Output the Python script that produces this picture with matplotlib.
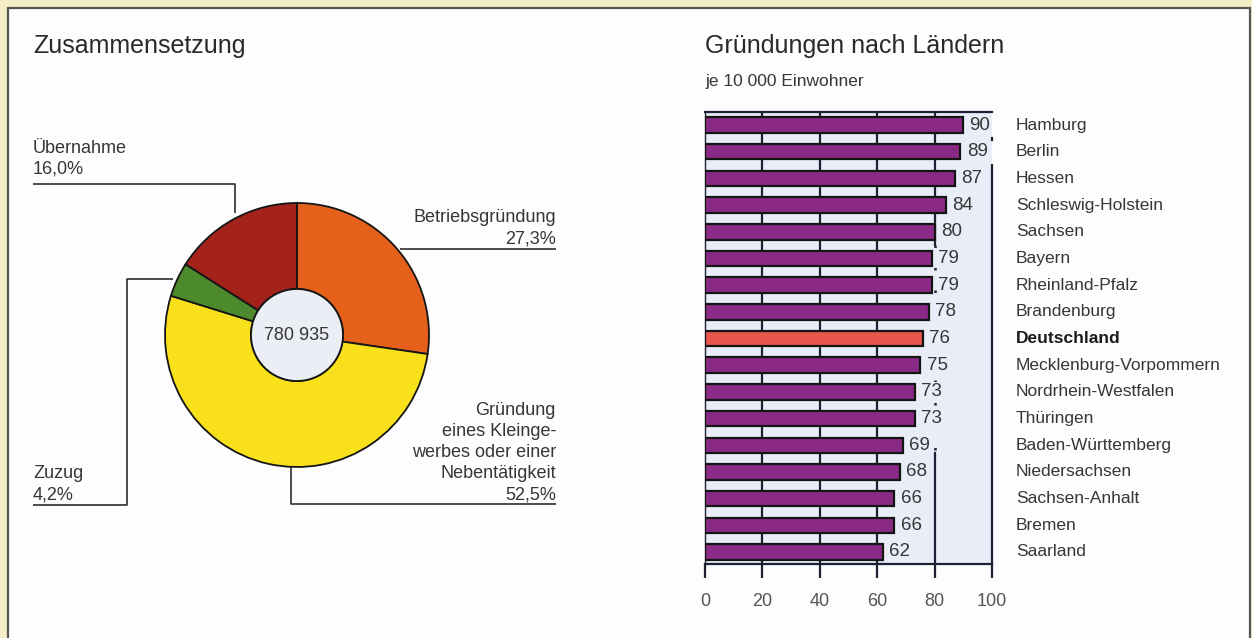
import matplotlib.pyplot as plt
from matplotlib.patches import Rectangle, Circle
from matplotlib.transforms import blended_transform_factory

plt.rcParams['font.family'] = ['Liberation Sans', 'DejaVu Sans']

# --- data -------------------------------------------------------------
pie_labels = ["Betriebsgründung", "Gründung eines Kleingewerbes oder einer Nebentätigkeit",
              "Zuzug", "Übernahme"]
pie_shares = [27.3, 52.5, 4.2, 16.0]
pie_colors = ["#e5611b", "#f8e01b", "#4c8a2d", "#a3221a"]
total = "780 935"

states = ["Hamburg", "Berlin", "Hessen", "Schleswig-Holstein", "Sachsen", "Bayern",
          "Rheinland-Pfalz", "Brandenburg", "Deutschland", "Mecklenburg-Vorpommern",
          "Nordrhein-Westfalen", "Thüringen", "Baden-Württemberg", "Niedersachsen",
          "Sachsen-Anhalt", "Bremen", "Saarland"]
per_10000 = [90, 89, 87, 84, 80, 79, 79, 78, 76, 75, 73, 73, 69, 68, 66, 66, 62]
x_ticks = [0, 20, 40, 60, 80, 100]

W, H = 1252, 638
txt = "#363636"
line = "#2e2e2e"
purple = "#8a2a86"
red = "#e8564c"
axbg = "#e8edf8"

fig = plt.figure(figsize=(W / 100, H / 100), dpi=100)
fig.patch.set_facecolor("#f4edc6")

# background axes in pixel coordinates (y measured from the top via Y())
bg = fig.add_axes([0, 0, 1, 1])
bg.set_xlim(0, W)
bg.set_ylim(0, H)
bg.axis("off")


def Y(y):
    return H - y


bg.add_patch(Rectangle((8, Y(650)), 1242, 642, facecolor="#fdfdfd",
                       edgecolor="#555555", lw=1.6, zorder=0))

# --- left: donut -------------------------------------------------------
cx, cy, r_out, r_in = 297, 335, 132, 46
wedges, _ = bg.pie(pie_shares, colors=pie_colors, startangle=90, counterclock=False,
                   center=(cx, Y(cy)), radius=r_out,
                   wedgeprops=dict(width=r_out - r_in, edgecolor="#151515", linewidth=1.3))
bg.add_patch(Circle((cx, Y(cy)), r_in, facecolor="#eceef6", edgecolor="#151515",
                    lw=1.3, zorder=5))
bg.text(cx, Y(cy), total, ha="center", va="center", fontsize=13, color=txt, zorder=6)
bg.set_aspect("auto")
bg.set_xlim(0, W)
bg.set_ylim(0, H)

bg.text(33, Y(53), "Zusammensetzung", fontsize=18, color="#2a2a2a", va="baseline")
bg.text(705, Y(53), "Gründungen nach Ländern", fontsize=18, color="#2a2a2a", va="baseline")
bg.text(705, Y(86), "je 10 000 Einwohner", fontsize=12.5, color=txt, va="baseline")

lab_kw = dict(fontsize=13, color=txt, va="baseline", linespacing=1.3)
bg.text(33, Y(174), "Übernahme\n16,0%", ha="left", **lab_kw)
bg.text(556, Y(243), "Betriebsgründung\n27,3%", ha="right", multialignment="right", **lab_kw)
bg.text(556, Y(499), "Gründung\neines Kleinge-\nwerbes oder einer\nNebentätigkeit\n52,5%",
        ha="right", multialignment="right", **lab_kw)
bg.text(33, Y(499), "Zuzug\n4,2%", ha="left", **lab_kw)

leaders = [
    [(33, 184), (235, 184), (235, 213)],
    [(400, 249), (556, 249)],
    [(291, 467), (291, 504), (556, 504)],
    [(33, 505), (127, 505), (127, 279), (173, 279)],
]
for pts in leaders:
    bg.plot([p[0] for p in pts], [Y(p[1]) for p in pts], color=line, lw=1.2,
            solid_capstyle="butt", zorder=2)

# --- right: bars -------------------------------------------------------
ax = fig.add_axes([705 / W, (H - 564) / H, 287 / W, 452 / H])
ax.set_facecolor(axbg)
rows = list(range(len(states)))
colors = [red if s == "Deutschland" else purple for s in states]
ax.barh(rows, per_10000, height=0.58, color=colors, edgecolor="#141414",
        linewidth=1.6, zorder=3)
ax.set_xlim(0, 100)
ax.set_ylim(len(states) - 1 + 0.45, -0.49)

grid = "#1c2134"
for g in x_ticks[1:4]:
    ax.axvline(g, color=grid, lw=1.6, zorder=1)
ax.plot([80, 80], [-0.49, 4.5], color=grid, lw=1.6, zorder=1)
ax.plot([80, 80], [4.5, 12.3], color=grid, lw=1.8, ls=(0, (1, 8)), zorder=1)
ax.plot([80, 80], [12.3, 16.45], color=grid, lw=1.6, zorder=1)
ax.plot([100, 100], [1.5, 16.45], color=grid, lw=1.6, zorder=1, clip_on=False)
ax.plot([100, 100], [0.5, 0.55], color=grid, lw=1.6, zorder=1, clip_on=False)

for i, v in enumerate(per_10000):
    ax.annotate(str(v), (v, i), xytext=(4.5, 0), textcoords="offset points",
                ha="left", va="center", fontsize=13.5, color=txt, zorder=4,
                bbox=dict(boxstyle="square,pad=0.05", facecolor=axbg, edgecolor="none"))

trans = blended_transform_factory(ax.transAxes, ax.transData)
for i, s in enumerate(states):
    bold = s == "Deutschland"
    ax.text(1.083, i, s, transform=trans, ha="left", va="center", fontsize=12.5,
            color="#1a1a1a" if bold else txt, fontweight="bold" if bold else "normal",
            clip_on=False)

ax.spines["right"].set_visible(False)
ax.spines["left"].set_linewidth(1.0)
ax.spines["left"].set_color(grid)
ax.spines["top"].set_linewidth(1.6)
ax.spines["top"].set_color(grid)
ax.spines["bottom"].set_linewidth(1.6)
ax.spines["bottom"].set_color(grid)
ax.set_yticks([])
ax.set_xticks(x_ticks)
ax.tick_params(axis="x", direction="out", length=10, width=1.6, pad=11,
               labelsize=13, labelcolor="#555555", color=grid)

fig.savefig("out.png", dpi=100, facecolor=fig.get_facecolor())
